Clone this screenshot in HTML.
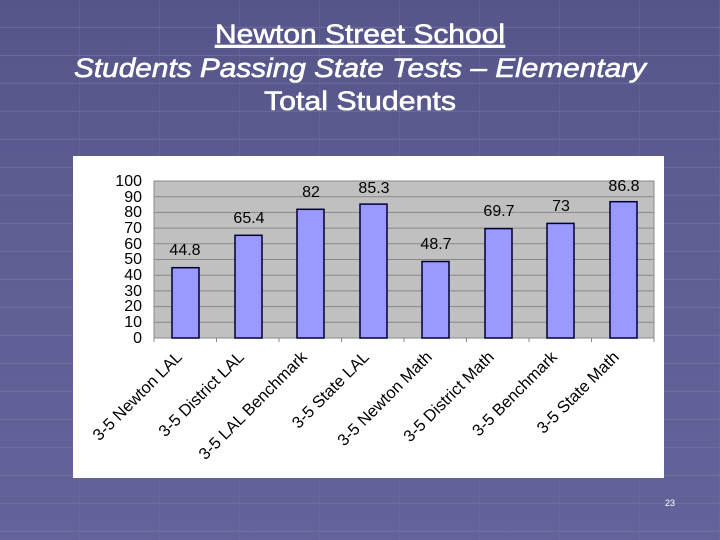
<!DOCTYPE html>
<html><head><meta charset="utf-8"><style>
html,body{margin:0;padding:0;width:720px;height:540px;overflow:hidden;background:#5d5d91;}
</style></head><body>
<svg width="720" height="540" xmlns="http://www.w3.org/2000/svg" font-family="Liberation Sans, sans-serif">
<defs>
<linearGradient id="bg" x1="0" y1="0" x2="0" y2="1">
<stop offset="0" stop-color="#55558a"/><stop offset="0.5" stop-color="#5f5f94"/><stop offset="1" stop-color="#63639a"/>
</linearGradient>
<pattern id="grid" width="80" height="28" patternUnits="userSpaceOnUse">
<path d="M0 27.5H80" stroke="#7878a8" stroke-width="1.5" opacity="0.5"/>
<path d="M79.5 0V28" stroke="#7070a0" stroke-width="1" opacity="0.35"/>
</pattern>
</defs>
<rect width="720" height="540" fill="url(#bg)"/>
<rect width="720" height="540" fill="url(#grid)"/>
<g fill="#fff" stroke="#fff" stroke-width="0.6" font-size="27" text-anchor="middle">
<text x="360" y="43" text-decoration="underline" textLength="290" lengthAdjust="spacingAndGlyphs">Newton Street School</text>
<text x="360" y="77" font-style="italic" textLength="572" lengthAdjust="spacingAndGlyphs">Students Passing State Tests – Elementary</text>
<text x="360" y="110" textLength="192" lengthAdjust="spacingAndGlyphs">Total Students</text>
</g>
<rect x="73" y="156" width="591" height="322" fill="#fff"/>
<rect x="154" y="181" width="500" height="157" fill="#c0c0c0" stroke="#888" stroke-width="1"/>
<g stroke="#888" stroke-width="1">
<path d="M154 196.7H654M154 212.4H654M154 228.1H654M154 243.8H654M154 259.5H654M154 275.2H654M154 290.9H654M154 306.6H654M154 322.3H654"/>
<path d="M154 338H654"/>
<path d="M154 338v4M216.5 338v4M279 338v4M341.5 338v4M404 338v4M466.5 338v4M529 338v4M591.5 338v4M654 338v4"/>
</g>
<g font-size="16" text-anchor="end" fill="#000">
<text x="142" y="186">100</text><text x="142" y="202">90</text><text x="142" y="217">80</text><text x="142" y="233">70</text><text x="142" y="249">60</text><text x="142" y="264">50</text><text x="142" y="280">40</text><text x="142" y="296">30</text><text x="142" y="311">20</text><text x="142" y="327">10</text><text x="142" y="343">0</text>
</g>
<g fill="#9999ff" stroke="#000033" stroke-width="1.5">
<rect x="172" y="267.7" width="27" height="70.3"/>
<rect x="235" y="235.3" width="27" height="102.7"/>
<rect x="297" y="209.3" width="27" height="128.7"/>
<rect x="360" y="204.1" width="27" height="133.9"/>
<rect x="422" y="261.5" width="27" height="76.5"/>
<rect x="485" y="228.6" width="27" height="109.4"/>
<rect x="547" y="223.4" width="27" height="114.6"/>
<rect x="610" y="201.7" width="27" height="136.3"/>
</g>
<g font-size="16" text-anchor="middle" fill="#000">
<text x="185" y="255">44.8</text>
<text x="249" y="223">65.4</text>
<text x="311" y="197">82</text>
<text x="374" y="193">85.3</text>
<text x="436" y="249">48.7</text>
<text x="499" y="216">69.7</text>
<text x="561" y="211">73</text>
<text x="624" y="191">86.8</text>
</g>
<g font-size="16.5" text-anchor="end" fill="#000">
<text transform="translate(183,358) rotate(-45)">3-5 Newton LAL</text>
<text transform="translate(245,358) rotate(-45)">3-5 District LAL</text>
<text transform="translate(308,358) rotate(-45)">3-5 LAL Benchmark</text>
<text transform="translate(370,358) rotate(-45)">3-5 State LAL</text>
<text transform="translate(433,358) rotate(-45)">3-5 Newton Math</text>
<text transform="translate(495,358) rotate(-45)">3-5 District Math</text>
<text transform="translate(558,358) rotate(-45)">3-5 Benchmark</text>
<text transform="translate(620,358) rotate(-45)">3-5 State Math</text>
</g>
<text x="670" y="506" font-size="9" fill="#fff" text-anchor="middle">23</text>
</svg>
</body></html>
